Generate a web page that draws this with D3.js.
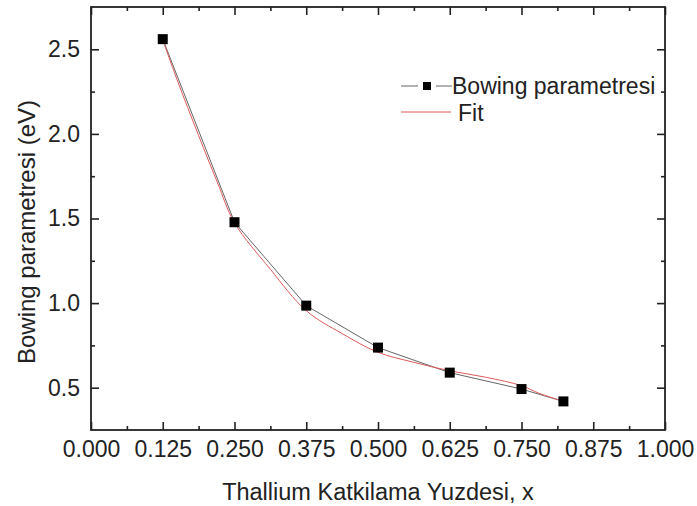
<!DOCTYPE html>
<html>
<head>
<meta charset="utf-8">
<script src="https://cdn.jsdelivr.net/npm/d3@7"></script>
<style>
  body { margin: 0; background: #fff; }
  text { font-family: "Liberation Sans", Arial, sans-serif; fill: #222; }
</style>
</head>
<body>
<div id="viz"></div>
<script>
// data
let xs = [0.125, 0.25, 0.375, 0.5, 0.625, 0.75, 0.823];
let bowing = [2.56, 1.478, 0.985, 0.737, 0.589, 0.492, 0.419];

// red fit curve, sampled by eye
let fit_x = [0.125, 0.15, 0.1875, 0.22, 0.25, 0.3125, 0.375, 0.4375, 0.5, 0.5625, 0.625, 0.6875, 0.75, 0.78, 0.823];
let fit_y = [2.555, 2.32, 1.99, 1.715, 1.475, 1.20, 0.955, 0.82, 0.709, 0.650, 0.600, 0.562, 0.512, 0.468, 0.419];

let x_ticks = [0, 0.125, 0.25, 0.375, 0.5, 0.625, 0.75, 0.875, 1.0];
let x_minor = [0.0625, 0.1875, 0.3125, 0.4375, 0.5625, 0.6875, 0.8125, 0.9375];
let y_ticks = [0.5, 1.0, 1.5, 2.0, 2.5];
let y_minor = [0.75, 1.25, 1.75, 2.25];

let width = 697, height = 506;
let m_left = 91, m_right = 665, m_top = 7, m_bottom = 430;

let x = d3.scaleLinear().domain([0, 1]).range([m_left, m_right]);
let y = d3.scaleLinear().domain([0.25, 2.75]).range([m_bottom, m_top]);

const svg = d3.select("#viz").append("svg")
    .attr("width", width)
    .attr("height", height);

function style_axis(g) {
    g.select(".domain").remove();
    g.selectAll("line").attr("stroke", "#222").attr("stroke-width", 1.6);
    g.selectAll("text").style("font-size", "23px").attr("fill", "#222");
}

// bottom
svg.append("g").attr("transform", "translate(0," + m_bottom + ")")
    .call(d3.axisBottom(x).tickValues(x_ticks).tickSize(-8).tickPadding(11).tickFormat(d3.format(".3f")))
    .call(style_axis);
svg.append("g").attr("transform", "translate(0," + m_bottom + ")")
    .call(d3.axisBottom(x).tickValues(x_minor).tickSize(-4).tickFormat(""))
    .call(style_axis);
// top
svg.append("g").attr("transform", "translate(0," + m_top + ")")
    .call(d3.axisTop(x).tickValues(x_ticks).tickSize(-8).tickFormat(""))
    .call(style_axis);
svg.append("g").attr("transform", "translate(0," + m_top + ")")
    .call(d3.axisTop(x).tickValues(x_minor).tickSize(-4).tickFormat(""))
    .call(style_axis);
// left
svg.append("g").attr("transform", "translate(" + m_left + ",0)")
    .call(d3.axisLeft(y).tickValues(y_ticks).tickSize(-8).tickPadding(11).tickFormat(d3.format(".1f")))
    .call(style_axis);
svg.append("g").attr("transform", "translate(" + m_left + ",0)")
    .call(d3.axisLeft(y).tickValues(y_minor).tickSize(-4).tickFormat(""))
    .call(style_axis);
// right
svg.append("g").attr("transform", "translate(" + m_right + ",0)")
    .call(d3.axisRight(y).tickValues(y_ticks).tickSize(-8).tickFormat(""))
    .call(style_axis);
svg.append("g").attr("transform", "translate(" + m_right + ",0)")
    .call(d3.axisRight(y).tickValues(y_minor).tickSize(-4).tickFormat(""))
    .call(style_axis);

// frame
svg.append("rect")
    .attr("x", m_left).attr("y", m_top)
    .attr("width", m_right - m_left).attr("height", m_bottom - m_top)
    .attr("fill", "none").attr("stroke", "#222").attr("stroke-width", 1.8);

// data line
let pts = xs.map((d, i) => [d, bowing[i]]);
svg.append("path")
    .datum(pts)
    .attr("d", d3.line().x(d => x(d[0])).y(d => y(d[1])))
    .attr("fill", "none").attr("stroke", "#666").attr("stroke-width", 1);

// fit
let fit_pts = fit_x.map((d, i) => [d, fit_y[i]]);
svg.append("path")
    .datum(fit_pts)
    .attr("d", d3.line().curve(d3.curveCatmullRom).x(d => x(d[0])).y(d => y(d[1])))
    .attr("fill", "none").attr("stroke", "#e05a5a").attr("stroke-width", 1);

// markers
let sz = 10;
svg.append("g").selectAll("rect")
    .data(pts)
    .join("rect")
    .attr("x", d => x(d[0]) - sz / 2)
    .attr("y", d => y(d[1]) - sz / 2)
    .attr("width", sz).attr("height", sz)
    .attr("fill", "#000");

// legend
let lg = svg.append("g");
lg.append("line").attr("x1", 401).attr("x2", 452).attr("y1", 86).attr("y2", 86)
    .attr("stroke", "#666").attr("stroke-width", 1);
lg.append("line").attr("x1", 418).attr("x2", 436).attr("y1", 86).attr("y2", 86)
    .attr("stroke", "#fff").attr("stroke-width", 3);
lg.append("rect").attr("x", 423).attr("y", 82).attr("width", 8).attr("height", 8)
    .attr("fill", "#000");
lg.append("text").attr("x", 452).attr("y", 94).style("font-size", "23px").text("Bowing parametresi");
lg.append("line").attr("x1", 401).attr("x2", 451).attr("y1", 112).attr("y2", 112)
    .attr("stroke", "#e05a5a").attr("stroke-width", 1);
lg.append("text").attr("x", 458).attr("y", 121).style("font-size", "23px").text("Fit");

// axis titles
svg.append("text")
    .attr("x", (m_left + m_right) / 2).attr("y", 500)
    .attr("text-anchor", "middle")
    .style("font-size", "23.5px")
    .text("Thallium Katkilama Yuzdesi, x");

svg.append("text")
    .attr("transform", "translate(35,232) rotate(-90)")
    .attr("text-anchor", "middle")
    .style("font-size", "24px")
    .text("Bowing parametresi (eV)");
</script>
</body>
</html>
